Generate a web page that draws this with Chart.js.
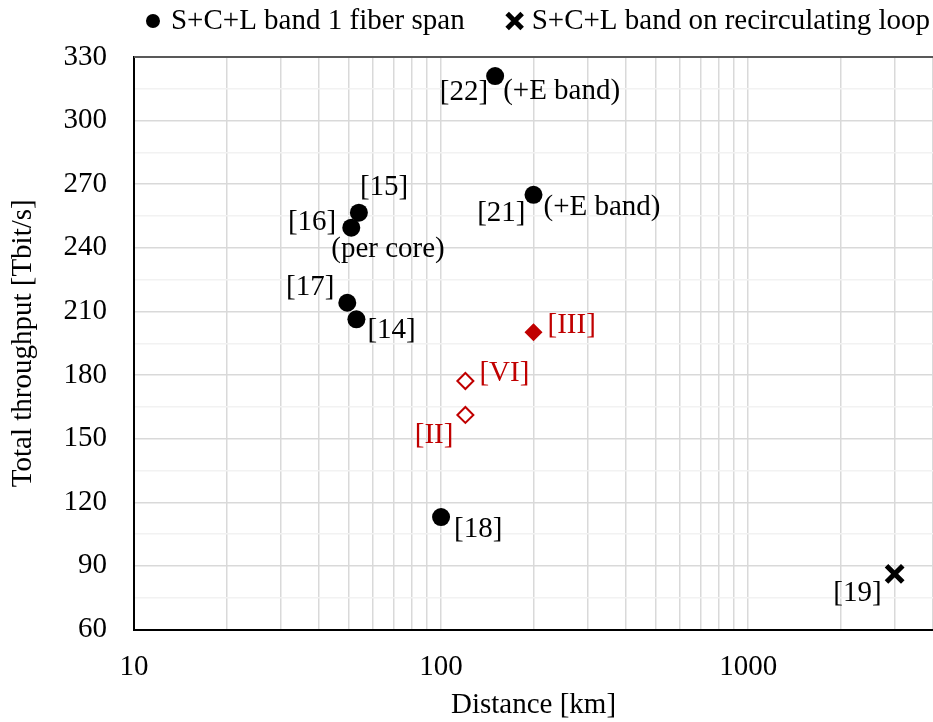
<!DOCTYPE html>
<html><head><meta charset="utf-8">
<script src="https://cdn.jsdelivr.net/npm/chart.js@4"></script>
<style>html,body{margin:0;padding:0;background:#fff;}#wrap{width:933px;height:722px;}</style>
</head><body><div id="wrap"><canvas id="c" width="933" height="722"></canvas></div>
<script>
const seriesNames = ['S+C+L band 1 fiber span', 'S+C+L band on recirculating loop'];
const spanRefs = ['[14]', '[15]', '[16]', '[17]', '[18]', '[21]', '[22]'];
const spanDistance = [53, 54, 51, 49.5, 100, 200, 150];
const spanThroughput = [206.3, 256.6, 249.5, 214.1, 113, 265, 321];
const spanNotes = ['', '', '(per core)', '', '', '(+E band)', '(+E band)'];
const loopRefs = ['[19]'];
const loopDistance = [3000];
const loopThroughput = [86.2];
const workFilledRefs = ['[III]'];
const workFilledDistance = [200];
const workFilledThroughput = [200.2];
const workOpenRefs = ['[VI]', '[II]'];
const workOpenDistance = [120, 120];
const workOpenThroughput = [177.2, 161.2];
const xTickValues = [10, 20, 30, 40, 50, 60, 70, 80, 90, 100, 200, 300, 400, 500, 600, 700, 800, 900, 1000, 2000, 3000, 4000];
const xTickLabels = ['10', '', '', '', '', '', '', '', '', '100', '', '', '', '', '', '', '', '', '1000', '', '', ''];
const yTickValues = [60, 75, 90, 105, 120, 135, 150, 165, 180, 195, 210, 225, 240, 255, 270, 285, 300, 315, 330];
const yTickLabels = ['60', '', '90', '', '120', '', '150', '', '180', '', '210', '', '240', '', '270', '', '300', '', '330'];
const xTitle = 'Distance [km]';
const yTitle = 'Total throughput [Tbit/s]';

const FAMILY = '"Liberation Serif", "Times New Roman", serif';
const FSIZE = 29;
const FONT = { family: FAMILY, size: FSIZE };
const FONT_STR = FSIZE + 'px ' + FAMILY;
const RED = '#C00000';

function pts(xs, ys) { return xs.map((x, i) => ({ x: x, y: ys[i] })); }

const refPlace = {
  '[14]': ['left', 11, 11.5],
  '[15]': ['left', 1, -25.5],
  '[16]': ['right', -15, -5],
  '[17]': ['right', -13, -15.5],
  '[18]': ['left', 13, 12.5],
  '[19]': ['right', -13, 19],
  '[21]': ['right', -8, 18.5],
  '[22]': ['right', -7, 16.5],
  '[III]': ['left', 14, -6.5],
  '[VI]': ['left', 14, -7.5],
  '[II]': ['right', -12, 20.5]
};
const notePlace = {
  '[16]': ['left', -20, 21.5],
  '[21]': ['left', 10, 13],
  '[22]': ['left', 8, 15.5]
};

const labelPlugin = {
  id: 'pointLabels',
  afterDatasetsDraw(chart) {
    const ctx = chart.ctx;
    ctx.save();
    ctx.font = FONT_STR;
    ctx.textBaseline = 'middle';
    chart.data.datasets.forEach((ds, di) => {
      const meta = chart.getDatasetMeta(di);
      meta.data.forEach((pt, i) => {
        const ref = ds.refs[i];
        const p = refPlace[ref];
        ctx.fillStyle = ds.labelColor;
        ctx.textAlign = p[0];
        ctx.fillText(ref, pt.x + p[1], pt.y + p[2]);
        const note = ds.notes ? ds.notes[i] : '';
        if (note) {
          const q = notePlace[ref];
          ctx.textAlign = q[0];
          ctx.fillText(note, pt.x + q[1], pt.y + q[2]);
        }
      });
    });
    ctx.restore();
  }
};

const framePlugin = {
  id: 'frameAndLegend',
  afterDraw(chart) {
    const ctx = chart.ctx;
    const a = chart.chartArea;
    ctx.save();
    ctx.strokeStyle = '#595959';
    ctx.lineWidth = 2;
    ctx.beginPath();
    ctx.moveTo(a.left, a.top);
    ctx.lineTo(a.right, a.top);
    ctx.stroke();
    ctx.font = FONT_STR;
    ctx.textBaseline = 'middle';
    ctx.textAlign = 'left';
    ctx.fillStyle = '#000';
    const ly = 21;
    const t0 = chart.data.datasets[0].label;
    const t1 = chart.data.datasets[1].label;
    const w0 = ctx.measureText(t0).width;
    const w1 = ctx.measureText(t1).width;
    const x1 = 930 - w1;
    const c1 = x1 - 17;
    const x0 = c1 - 50 - w0;
    const c0 = x0 - 18;
    ctx.fillText(t0, x0, ly);
    ctx.fillText(t1, x1, ly);
    ctx.beginPath();
    ctx.arc(c0, ly, 7, 0, Math.PI * 2);
    ctx.fill();
    ctx.strokeStyle = '#000';
    ctx.lineWidth = 5;
    ctx.lineCap = 'butt';
    const h = 7.5;
    ctx.beginPath();
    ctx.moveTo(c1 - h, ly - h); ctx.lineTo(c1 + h, ly + h);
    ctx.moveTo(c1 + h, ly - h); ctx.lineTo(c1 - h, ly + h);
    ctx.stroke();
    ctx.restore();
  }
};

new Chart(document.getElementById('c'), {
  type: 'scatter',
  data: {
    datasets: [
      { label: seriesNames[0], data: pts(spanDistance, spanThroughput), refs: spanRefs, notes: spanNotes, labelColor: '#000',
        pointStyle: 'circle', pointRadius: 9, backgroundColor: '#000', borderColor: '#000', borderWidth: 0 },
      { label: seriesNames[1], data: pts(loopDistance, loopThroughput), refs: loopRefs, labelColor: '#000',
        pointStyle: 'crossRot', pointRadius: 11.5, backgroundColor: '#000', borderColor: '#000', borderWidth: 5 },
      { label: 'filled', data: pts(workFilledDistance, workFilledThroughput), refs: workFilledRefs, labelColor: RED,
        pointStyle: 'rectRot', pointRadius: 9, backgroundColor: RED, borderColor: RED, borderWidth: 0 },
      { label: 'open', data: pts(workOpenDistance, workOpenThroughput), refs: workOpenRefs, labelColor: RED,
        pointStyle: 'rectRot', pointRadius: 8, backgroundColor: '#fff', borderColor: RED, borderWidth: 2 }
    ]
  },
  options: {
    responsive: false,
    animation: false,
    events: [],
    layout: { autoPadding: false, padding: { top: 57, right: 0, left: 0, bottom: 0 } },
    plugins: { legend: { display: false }, tooltip: { enabled: false } },
    scales: {
      x: {
        type: 'logarithmic', min: 10, max: 4000,
        afterBuildTicks: s => { s.ticks = xTickValues.map(v => ({ value: v })); },
        afterFit: s => { s.height = 92.5; s.paddingRight = 0; s.paddingLeft = 0; },
        ticks: { callback: (v, i) => xTickLabels[i], autoSkip: false, maxRotation: 0, padding: 20, font: FONT, color: '#000' },
        grid: { color: '#d9d9d9', lineWidth: 1.5, drawTicks: false },
        border: { color: '#000', width: 2 },
        title: { display: true, text: xTitle, font: FONT, color: '#000', padding: { top: 0, bottom: -1 } }
      },
      y: {
        type: 'linear', min: 60, max: 330,
        afterBuildTicks: s => { s.ticks = yTickValues.map(v => ({ value: v })); },
        afterFit: s => { s.width = 134; },
        ticks: { callback: (v, i) => yTickLabels[i], autoSkip: false, padding: 27, font: FONT, color: '#000' },
        grid: { color: c => (yTickLabels[c.index] ? '#d9d9d9' : '#f2f2f2'), lineWidth: 1.5, drawTicks: false },
        border: { color: '#000', width: 2 },
        title: { display: true, text: yTitle, font: FONT, color: '#000', padding: { top: 6, bottom: 0 } }
      }
    }
  },
  plugins: [labelPlugin, framePlugin]
});
</script></body></html>
